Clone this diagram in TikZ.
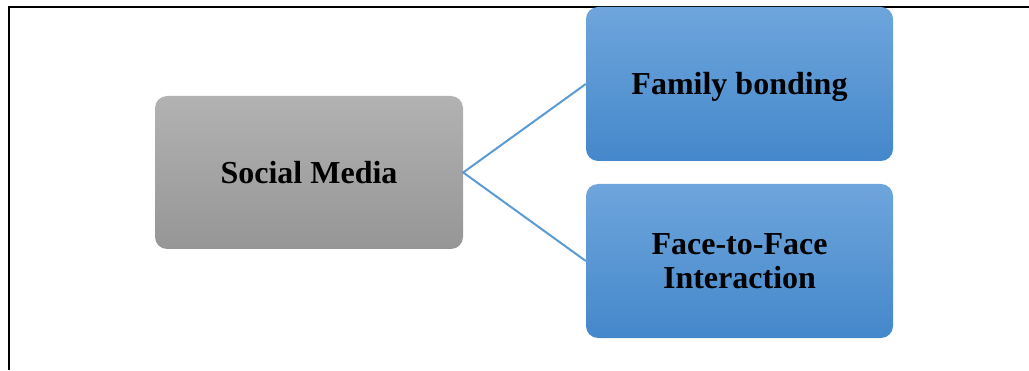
\documentclass[tikz,border=0pt]{standalone}
\usepackage{fontspec}
\setmainfont{Liberation Serif}
\usetikzlibrary{positioning}
\definecolor{linkblue}{RGB}{91,155,213}
\tikzset{box/.style={rounded corners=12pt,align=center,inner sep=0pt,
    minimum width=307pt,minimum height=154pt,font=\fontsize{32}{34}\selectfont\bfseries}}
\tikzset{graybox/.style={box,top color={rgb,255:red,178;green,178;blue,178},bottom color={rgb,255:red,150;green,150;blue,150}}}
\tikzset{bluebox/.style={box,top color={rgb,255:red,110;green,165;blue,220},bottom color={rgb,255:red,68;green,136;blue,203}}}
\tikzset{link/.style={draw=linkblue,line width=2pt}}

\begin{document}
\begin{tikzpicture}[node distance = 88.5pt and 430.5pt, on grid]
    \useasboundingbox (0,0) rectangle (1029pt,370pt);
    % frame
    \coordinate (F1) at (9pt,0pt);
    \coordinate (F2) at (9pt,363pt);
    \coordinate (F3) at (1029pt,363pt);
    \draw[line width=2.5pt] (F1) -- (F2) -- (F3);
    \node[graybox, minimum width=308pt, minimum height=153pt] (social) at (309pt,197.5pt) {Social Media};
    \node[bluebox, above right=of social, text depth=2pt] (family) {Family bonding};
    \node[bluebox, below right=of social] (face) {Face-to-Face\\Interaction};
    \draw[link] (family.west) -- (social.east) -- (face.west);
\end{tikzpicture}
\end{document}
